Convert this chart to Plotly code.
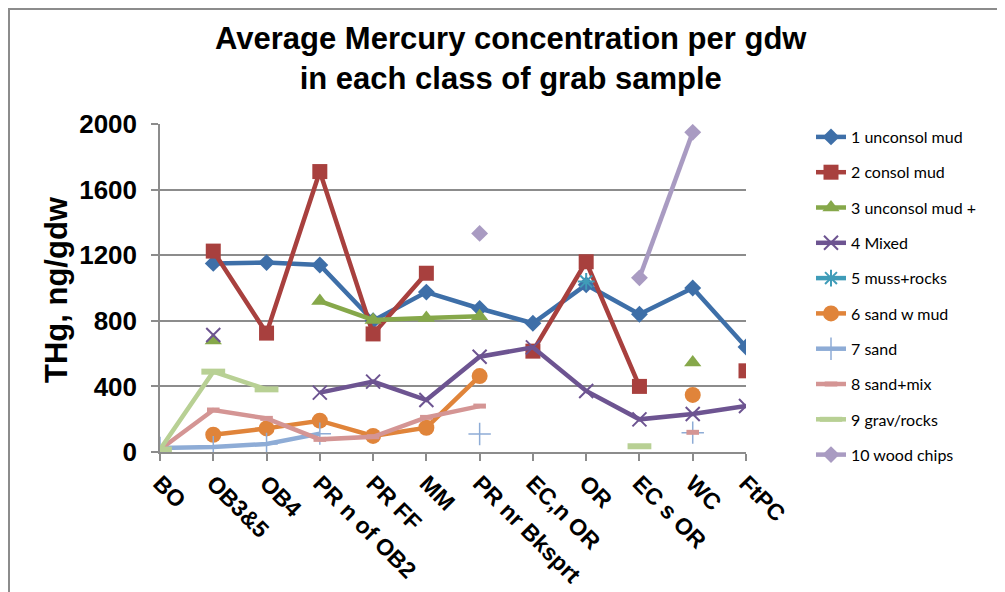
import plotly.graph_objects as go

categories = ["BO", "OB3&5", "OB4", "PR n of OB2", "PR FF", "MM", "PR nr Bksprt",
              "EC,n OR", "OR", "EC s OR", "WC", "FtPC"]

s1_unconsol_mud = [None, 1150, 1155, 1140, 800, 975, 875, 785, 1020, 840, 1000, 640]
s2_consol_mud = [None, 1225, 725, 1710, 720, 1090, None, 615, 1160, 400, None, 495]
s3_unconsol_mud_plus = [None, 680, None, 920, 805, 817, 828, None, None, None, 545, None]
s4_mixed = [None, 713, None, 362, 429, 317, 581, 638, 372, 199, 232, 280]
s5_muss_rocks = [None, None, None, None, None, None, None, None, 1040, None, None, None]
s6_sand_w_mud = [None, 105, 144, 191, 98, 148, 463, None, None, None, 348, None]
s7_sand = [25, 30, 49, 112, None, None, 110, None, None, None, 118, None]
s8_sand_mix = [15, 256, 205, 77, 93, 211, 280, None, None, None, 120, None]
s9_grav_rocks = [15, 490, 382, None, None, None, None, None, None, 35, None, None]
s10_wood_chips = [None, None, None, None, None, None, 1333, None, None, 1062, 1949, None]

series_names = ["1 unconsol mud", "2 consol mud", "3 unconsol mud +", "4 Mixed",
                "5 muss+rocks", "6 sand w mud", "7 sand", "8 sand+mix",
                "9 grav/rocks", "10 wood chips"]
series_values = [s1_unconsol_mud, s2_consol_mud, s3_unconsol_mud_plus, s4_mixed,
                 s5_muss_rocks, s6_sand_w_mud, s7_sand, s8_sand_mix,
                 s9_grav_rocks, s10_wood_chips]
y_ticks = [0, 400, 800, 1200, 1600, 2000]

colors = ["#3E6FA8", "#A8403E", "#86A84A", "#6D5491", "#3F9CB8", "#E0843A",
          "#8EACD6", "#D49594", "#B8D094", "#A99BC2"]
markers = [
    dict(symbol="diamond", size=13),
    dict(symbol="square", size=15),
    dict(symbol="triangle-up", size=15),
    dict(symbol="x-thin", size=14, line=dict(width=2)),
    dict(symbol="asterisk", size=14, line=dict(width=2)),
    dict(symbol="circle", size=16),
    dict(symbol="cross-thin", size=16, line=dict(width=1.5)),
    dict(symbol="line-ew", size=9, line=dict(width=5)),
    dict(symbol="line-ew", size=17, line=dict(width=6)),
    dict(symbol="diamond", size=13),
]

# plot area in figure pixels (the page adds an 8px body margin)
L, R, T, B = 152, 738, 116, 444
W, H = R - L, B - T


def px_x(x):
    return (x - L) / W


def px_y(y):
    return (B - y) / H


fig = go.Figure()
for i, (name, vals) in enumerate(zip(series_names, series_values)):
    m = dict(markers[i])
    m["color"] = colors[i]
    if "line" in m:
        m["line"] = dict(m["line"], color=colors[i])
    fig.add_trace(go.Scatter(
        x=categories, y=vals, name=name, mode="lines+markers",
        line=dict(color=colors[i], width=4.5), marker=m,
        connectgaps=False, legendgroup=str(i),
    ))

fig.update_layout(
    width=1005, height=592,
    margin=dict(l=L, r=1005 - R, t=T, b=592 - B, autoexpand=False),
    paper_bgcolor="white", plot_bgcolor="white",
    font=dict(family="Liberation Sans", color="black"),
    showlegend=True,
    legend=dict(
        x=px_x(803), xanchor="left", y=px_y(112), yanchor="top",
        font=dict(family="Lato", size=16, color="black"),
        tracegroupgap=11.5, bgcolor="rgba(0,0,0,0)", maxheight=420,
    ),
    xaxis=dict(
        type="category", range=[0, 11], showgrid=False, automargin=False,
        showline=True, linecolor="#8C8C8C", linewidth=1.5,
        ticks="outside", ticklen=7, tickcolor="#8C8C8C", tickwidth=1.5,
        tickangle=45,
        tickfont=dict(family="Liberation Sans", size=23, weight="bold", color="black"),
    ),
    yaxis=dict(
        range=[0, 2000], tickvals=y_ticks, automargin=False,
        showgrid=True, gridcolor="#8C8C8C", gridwidth=1.5,
        showline=True, linecolor="#8C8C8C", linewidth=1.5,
        ticks="outside", ticklen=7, tickcolor="#8C8C8C", tickwidth=1.5,
        ticklabelstandoff=9,
        tickfont=dict(family="Liberation Sans", size=26, weight="bold", color="black"),
        zeroline=False,
    ),
    annotations=[
        dict(
            text="Average Mercury concentration per gdw<br>in each class of grab sample",
            x=px_x(503), y=px_y(51), xref="paper", yref="paper",
            xanchor="center", yanchor="middle", showarrow=False,
            font=dict(family="Liberation Sans", size=31, weight="bold", color="black"),
        ),
        dict(
            text="THg, ng/gdw", textangle=-90,
            x=px_x(48), y=px_y(282), xref="paper", yref="paper",
            xanchor="center", yanchor="middle", showarrow=False,
            font=dict(family="Liberation Sans", size=31, weight="bold", color="black"),
        ),
    ],
    shapes=[dict(
        type="rect", xref="paper", yref="paper",
        x0=px_x(1), x1=px_x(1020),
        y0=px_y(620), y1=px_y(1),
        line=dict(color="#8C8C8C", width=2), fillcolor="rgba(0,0,0,0)", layer="below",
    )],
)

fig.write_html("out.html")
